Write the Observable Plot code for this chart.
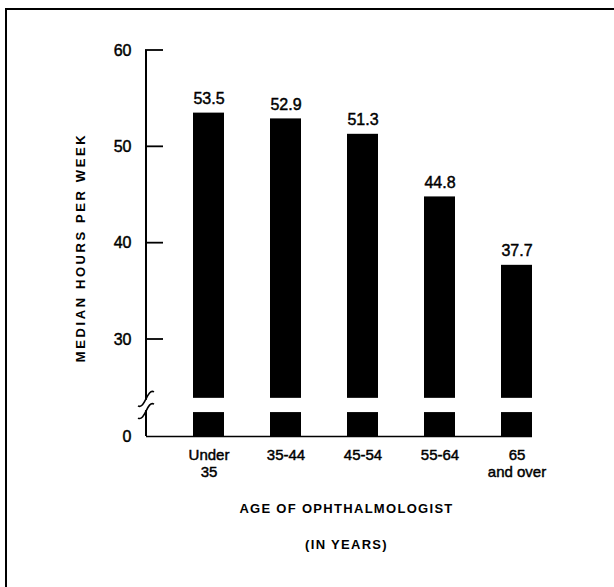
<!DOCTYPE html>
<html>
<head>
<meta charset="utf-8">
<script src="https://cdn.jsdelivr.net/npm/d3@7"></script>
<script src="https://cdn.jsdelivr.net/npm/@observablehq/plot@0.6"></script>
<style>
  html, body { margin: 0; padding: 0; background: white; }
  #wrap { position: relative; width: 614px; height: 587px; overflow: hidden; }
  #border { position: absolute; left: 5px; top: 8px; width: 700px; height: 700px;
            border-top: 2px solid #000; border-left: 2px solid #000; pointer-events: none; }
</style>
</head>
<body>
<div id="wrap"><div id="border"></div></div>
<script>
// ---- data ----
const ageGroups = ["Under 35", "35-44", "45-54", "55-64", "65 and over"];
const ageLabels = ["Under\n35", "35-44", "45-54", "55-64", "65\nand over"];
const medianHours = [53.5, 52.9, 51.3, 44.8, 37.7];
const yTicks = [0, 30, 40, 50, 60];
const yTitle = "MEDIAN HOURS PER WEEK";
const xTitle1 = "AGE OF OPHTHALMOLOGIST";
const xTitle2 = "(IN YEARS)";

const data = ageGroups.map((a, i) => ({age: a, hours: medianHours[i]}));
const labelOf = new Map(ageGroups.map((a, i) => [a, ageLabels[i]]));

// axis break (values between 0 and 30 are compressed / cut)
const breakLow = 7.4, breakHigh = 11.8;

function decorations(index, scales, values, dimensions) {
  const y = scales.y;
  const x0 = dimensions.marginLeft;
  const g = d3.create("svg:g");
  g.append("line")
    .attr("x1", x0).attr("x2", x0)
    .attr("y1", y(0)).attr("y2", y(60))
    .attr("stroke", "#000").attr("stroke-width", 2);
  g.selectAll("line.tk").data(yTicks.filter(t => t > 0)).join("line")
    .attr("class", "tk")
    .attr("x1", x0 - 1).attr("x2", x0 + 17)
    .attr("y1", d => y(d)).attr("y2", d => y(d))
    .attr("stroke", "#000").attr("stroke-width", 1.8);
  const yb1 = y(breakHigh) + 1, yb2 = y(breakLow) - 1;
  g.append("rect")
    .attr("x", x0 - 4).attr("y", yb1 + 1)
    .attr("width", 8).attr("height", Math.max(0, yb2 - yb1 - 2))
    .attr("fill", "#fff");
  for (const yy of [yb1, yb2]) {
    g.append("path")
      .attr("d", `M${x0 - 8},${yy + 7} C${x0 - 1},${yy + 11} ${x0 + 1},${yy - 11} ${x0 + 8},${yy - 7}`)
      .attr("fill", "none").attr("stroke", "#000").attr("stroke-width", 1.6);
  }
  return g.node();
}

const chart = Plot.plot({
  width: 614,
  height: 587,
  marginLeft: 146,
  marginRight: 82,
  marginTop: 50,
  marginBottom: 151,
  style: {fontFamily: "'Liberation Sans', Arial, sans-serif", fontSize: "15px", color: "#000", background: "transparent"},
  x: {domain: ageGroups, paddingInner: 0.6, paddingOuter: 0.29, align: 1, axis: null},
  y: {type: "linear", domain: [0, 30, 60], range: [436, 339, 50], axis: null},
  marks: [
    Plot.barY(data, {x: "age", y1: breakHigh, y2: "hours", fill: "#000", inset: 0}),
    Plot.barY(data, {x: "age", y1: 0, y2: breakLow, fill: "#000", inset: 0}),
    Plot.ruleY([0], {stroke: "#000", strokeWidth: 1.5}),
    decorations,
    Plot.axisY({ticks: yTicks, tickSize: 0, tickPadding: 15, fontSize: 16, label: null, tickFormat: d => String(d)}),
    Plot.axisX({tickSize: 0, tickPadding: 12, fontSize: 15, lineHeight: 1.1, label: null, tickFormat: d => labelOf.get(d)}),
    Plot.text(data, {x: "age", y: "hours", text: d => d.hours.toFixed(1), dy: -9, lineAnchor: "bottom", fontSize: 16}),
    Plot.text([yTitle], {frameAnchor: "left", textAnchor: "middle", dx: -66, dy: 4, rotate: -90, fontSize: 13, fontWeight: "bold"}),
    Plot.text([xTitle1], {frameAnchor: "bottom", textAnchor: "middle", dx: 7, dy: 76, fontSize: 13, fontWeight: "bold"}),
    Plot.text([xTitle2], {frameAnchor: "bottom", textAnchor: "middle", dx: 7, dy: 112, fontSize: 13, fontWeight: "bold"})
  ]
});

const titles = new Set([yTitle, xTitle1, xTitle2]);
d3.select(chart).selectAll("text")
  .filter(function() { return this.textContent === yTitle; })
  .style("letter-spacing", "2.6px");
d3.select(chart).selectAll("text")
  .filter(function() { return this.textContent === xTitle1 || this.textContent === xTitle2; })
  .style("letter-spacing", "1.3px");
// slightly heavier strokes for numbers and category labels (printed look)
d3.select(chart).selectAll("text")
  .filter(function() { return !titles.has(this.textContent); })
  .style("stroke", "#000").style("stroke-width", "0.45px");

document.getElementById("wrap").prepend(chart);
</script>
</body>
</html>
